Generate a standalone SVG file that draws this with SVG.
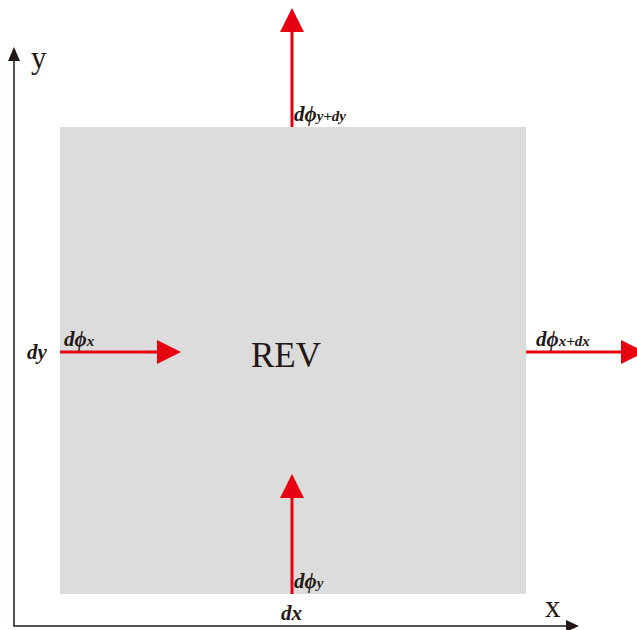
<svg xmlns="http://www.w3.org/2000/svg" width="637" height="630" viewBox="0 0 637 630">
<style>
.lbl{font-family:"Liberation Serif","Times New Roman",serif;font-weight:bold;font-style:italic;fill:#231815;font-size:21px}
.sub{font-size:15px}
.ax{stroke:#231815;stroke-width:1.5;fill:none}
.red{stroke:#e60012;stroke-width:3;fill:none}
.axt{font-family:"Liberation Serif","Times New Roman",serif;fill:#231815;font-size:31px}
</style>
<defs>
<marker id="ra" viewBox="0 0 10 10" refX="0" refY="5" markerWidth="8" markerHeight="9.3" markerUnits="strokeWidth" orient="auto"><path d="M0,0 L10,5 L0,10 z" fill="#e60012"/></marker>
</defs>
<rect id="rev-box" x="60" y="127" width="466" height="467" fill="#dcdcdc"/>
<g id="axes">
<path class="ax" d="M14,60 L14,626 L567,626"/>
<path d="M8,61 L14,47 L20,61 z" fill="#231815"/>
<path d="M566,620 L579,626 L566,632 z" fill="#231815"/>
<text class="axt" x="31" y="68">y</text>
<text class="axt" x="545" y="617">x</text>
</g>
<g id="connectors">
<line class="red" x1="292" y1="127" x2="292" y2="32" marker-end="url(#ra)"/>
<line class="red" x1="292" y1="594" x2="292" y2="498" marker-end="url(#ra)"/>
<line class="red" x1="60" y1="352" x2="157" y2="352" marker-end="url(#ra)"/>
<line class="red" x1="526" y1="352" x2="621" y2="352" marker-end="url(#ra)"/>
</g>
<g id="node-rev"><text x="286" y="367" text-anchor="middle" style="font-family:'Liberation Serif','Times New Roman',serif;font-size:35px;fill:#231815">REV</text></g>
<g id="label-top"><text class="lbl" x="294" y="121">dϕ<tspan class="sub">y+dy</tspan></text></g>
<g id="label-left"><text class="lbl" x="64" y="346">dϕ<tspan class="sub">x</tspan></text></g>
<g id="label-right"><text class="lbl" x="536" y="346">dϕ<tspan class="sub">x+dx</tspan></text></g>
<g id="label-bottom"><text class="lbl" x="294" y="588">dϕ<tspan class="sub">y</tspan></text></g>
<g id="label-dy"><text class="lbl" x="27" y="359">dy</text></g>
<g id="label-dx"><text class="lbl" x="281" y="620">dx</text></g>
</svg>
